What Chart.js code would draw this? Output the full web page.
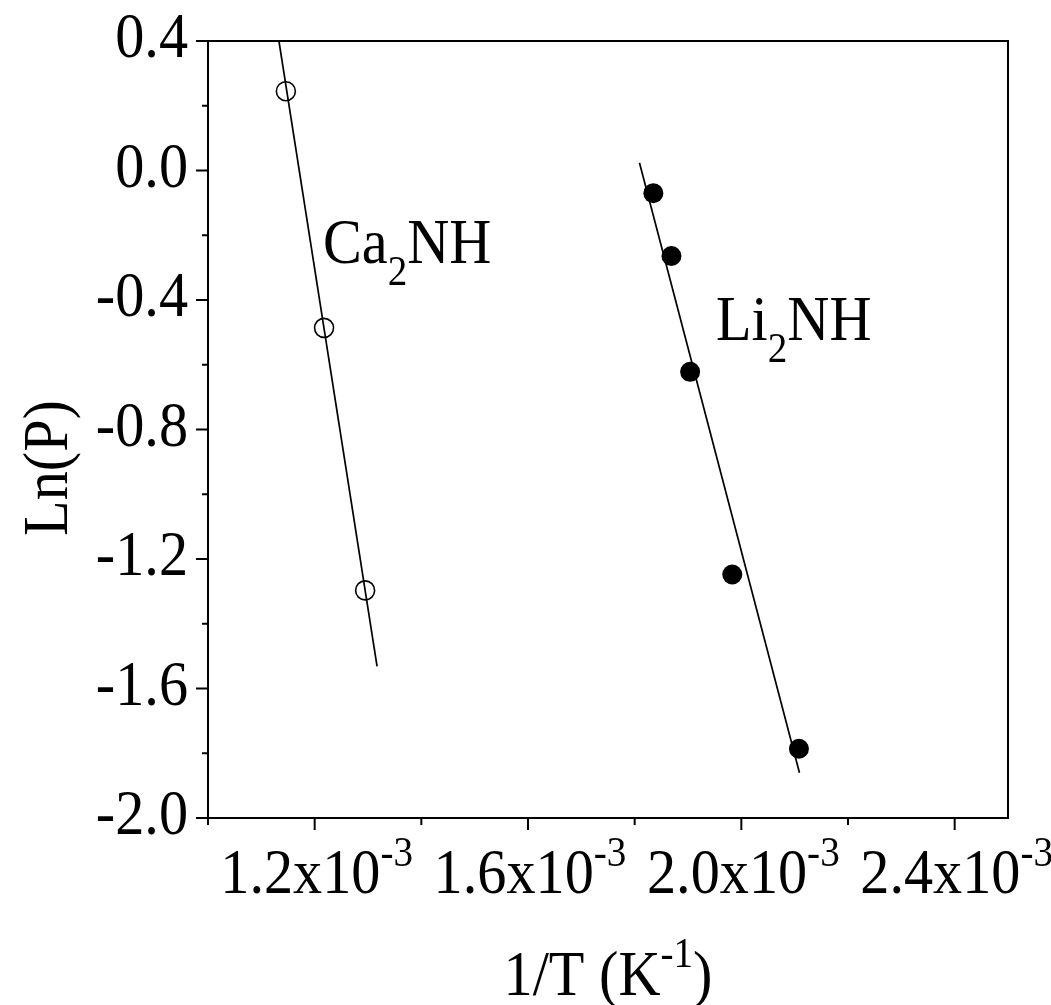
<!DOCTYPE html>
<html>
<head>
<meta charset="utf-8">
<script src="https://cdn.jsdelivr.net/npm/chart.js@4/dist/chart.umd.min.js"></script>
<style>
html,body{margin:0;padding:0;background:#fff;}
canvas{display:block;}
</style>
</head>
<body>
<canvas id="c" width="1051" height="1005"></canvas>
<script>
// ---- data ----
const caX = [1.146e-3, 1.2176e-3, 1.2946e-3];
const caY = [0.245, -0.486, -1.297];
const liX = [1.835e-3, 1.869e-3, 1.904e-3, 1.983e-3, 2.108e-3];
const liY = [-0.070, -0.264, -0.622, -1.248, -1.786];
const caFitX = [1.133e-3, 1.317e-3];
const caFitY = [0.40, -1.532];
const liFitX = [1.809e-3, 2.109e-3];
const liFitY = [0.024, -1.860];
const xMajorTicks = [1.2e-3, 1.6e-3, 2.0e-3, 2.4e-3];
const xTickMantissa = ['1.2', '1.6', '2.0', '2.4'];
const xTickExponent = ['-3', '-3', '-3', '-3'];
const xMinorTicks = [1.0e-3, 1.4e-3, 1.8e-3, 2.2e-3];
const yMajorTicks = [0.4, 0.0, -0.4, -0.8, -1.2, -1.6, -2.0];
const yTickLabels = ['0.4', '0.0', '-0.4', '-0.8', '-1.2', '-1.6', '-2.0'];
const yMinorTicks = [0.2, -0.2, -0.6, -1.0, -1.4, -1.8];
const seriesLabels = [['Ca', '2', 'NH'], ['Li', '2', 'NH']];
const xTitle = ['1/T (K', '-1', ')'];
const yTitle = 'Ln(P)';

const FONT = '"Liberation Serif", "Times New Roman", serif';
const SX = 0.91;      // horizontal condensation of the glyphs
const BIG = 64, SMALL = 43;
const pts = (xs, ys) => xs.map((x, i) => ({x, y: ys[i]}));

const decor = {
  id: 'decor',
  afterDraw(chart) {
    const ctx = chart.ctx;
    const xs = chart.scales.x, ys = chart.scales.y;
    const a = chart.chartArea;
    const W = (s, size) => { ctx.font = size + 'px ' + FONT; return ctx.measureText(s).width * SX; };
    const T = (s, x, y, size) => {
      ctx.save();
      ctx.font = size + 'px ' + FONT;
      ctx.textAlign = 'left';
      ctx.textBaseline = 'alphabetic';
      ctx.translate(x, y);
      ctx.scale(SX, 1);
      ctx.fillText(s, 0, 0);
      ctx.restore();
    };
    ctx.save();
    ctx.strokeStyle = '#000';
    ctx.fillStyle = '#000';
    // frame
    ctx.lineWidth = 2;
    ctx.strokeRect(a.left, a.top, a.right - a.left, a.bottom - a.top);
    // ticks
    ctx.beginPath();
    xMajorTicks.forEach(v => { const p = xs.getPixelForValue(v); ctx.moveTo(p, a.bottom); ctx.lineTo(p, a.bottom + 12); });
    xMinorTicks.forEach(v => { const p = xs.getPixelForValue(v); ctx.moveTo(p, a.bottom); ctx.lineTo(p, a.bottom + 7); });
    yMajorTicks.forEach(v => { const p = ys.getPixelForValue(v); ctx.moveTo(a.left, p); ctx.lineTo(a.left - 12, p); });
    yMinorTicks.forEach(v => { const p = ys.getPixelForValue(v); ctx.moveTo(a.left, p); ctx.lineTo(a.left - 6, p); });
    ctx.stroke();

    // y tick labels (right aligned)
    yMajorTicks.forEach((v, i) => {
      const w = W(yTickLabels[i], BIG);
      T(yTickLabels[i], a.left - 20 - w, ys.getPixelForValue(v) + 16, BIG);
    });

    // x tick labels with superscript
    xMajorTicks.forEach((v, i) => {
      const p = xs.getPixelForValue(v);
      const m = xTickMantissa[i] + 'x10';
      const w1 = W(m, BIG), w2 = W(xTickExponent[i], SMALL);
      const x0 = p - (w1 + w2) / 2 + 2;
      const base = a.bottom + 75;
      T(m, x0, base, BIG);
      T(xTickExponent[i], x0 + w1, base - 27, SMALL);
    });

    // x title
    {
      const w1 = W(xTitle[0], BIG), w2 = W(xTitle[1], SMALL), w3 = W(xTitle[2], BIG);
      const cx = (a.left + a.right) / 2;
      const x0 = cx - (w1 + w2 + w3) / 2;
      const base = 995;
      T(xTitle[0], x0, base, BIG);
      T(xTitle[1], x0 + w1, base - 28, SMALL);
      T(xTitle[2], x0 + w1 + w2, base, BIG);
    }

    // y title (rotated)
    ctx.save();
    ctx.translate(67, 468);
    ctx.rotate(-Math.PI / 2);
    ctx.scale(SX, 1);
    ctx.font = BIG + 'px ' + FONT;
    ctx.textAlign = 'center';
    ctx.fillText(yTitle, 0, 0);
    ctx.restore();

    // series labels with subscripts
    const drawSub = (parts, x, y) => {
      T(parts[0], x, y, BIG);
      let w = W(parts[0], BIG);
      T(parts[1], x + w, y + 22, SMALL);
      w += W(parts[1], SMALL);
      T(parts[2], x + w, y, BIG);
    };
    drawSub(seriesLabels[0], 323, 263);
    drawSub(seriesLabels[1], 716, 340);
    ctx.restore();
  }
};

new Chart(document.getElementById('c'), {
  type: 'scatter',
  data: {
    datasets: [
      { label: 'Ca2NH fit', data: pts(caFitX, caFitY), showLine: true, borderColor: '#000', borderWidth: 1.7, pointRadius: 0, fill: false },
      { label: 'Li2NH fit', data: pts(liFitX, liFitY), showLine: true, borderColor: '#000', borderWidth: 1.7, pointRadius: 0, fill: false },
      { label: 'Ca2NH', data: pts(caX, caY), showLine: false, pointStyle: 'circle', pointRadius: 9.5, pointBorderWidth: 1.6, pointBorderColor: '#000', pointBackgroundColor: 'rgba(0,0,0,0)' },
      { label: 'Li2NH', data: pts(liX, liY), showLine: false, pointStyle: 'circle', pointRadius: 10, pointBorderWidth: 0, pointBorderColor: '#000', pointBackgroundColor: '#000' }
    ]
  },
  options: {
    responsive: false,
    animation: false,
    devicePixelRatio: 1,
    layout: { padding: { left: 208, top: 41, right: 43, bottom: 187 } },
    plugins: { legend: { display: false }, tooltip: { enabled: false } },
    scales: {
      x: { type: 'linear', display: false, min: 1.0e-3, max: 2.5e-3 },
      y: { type: 'linear', display: false, min: -2.0, max: 0.4 }
    }
  },
  plugins: [decor]
});
</script>
</body>
</html>
